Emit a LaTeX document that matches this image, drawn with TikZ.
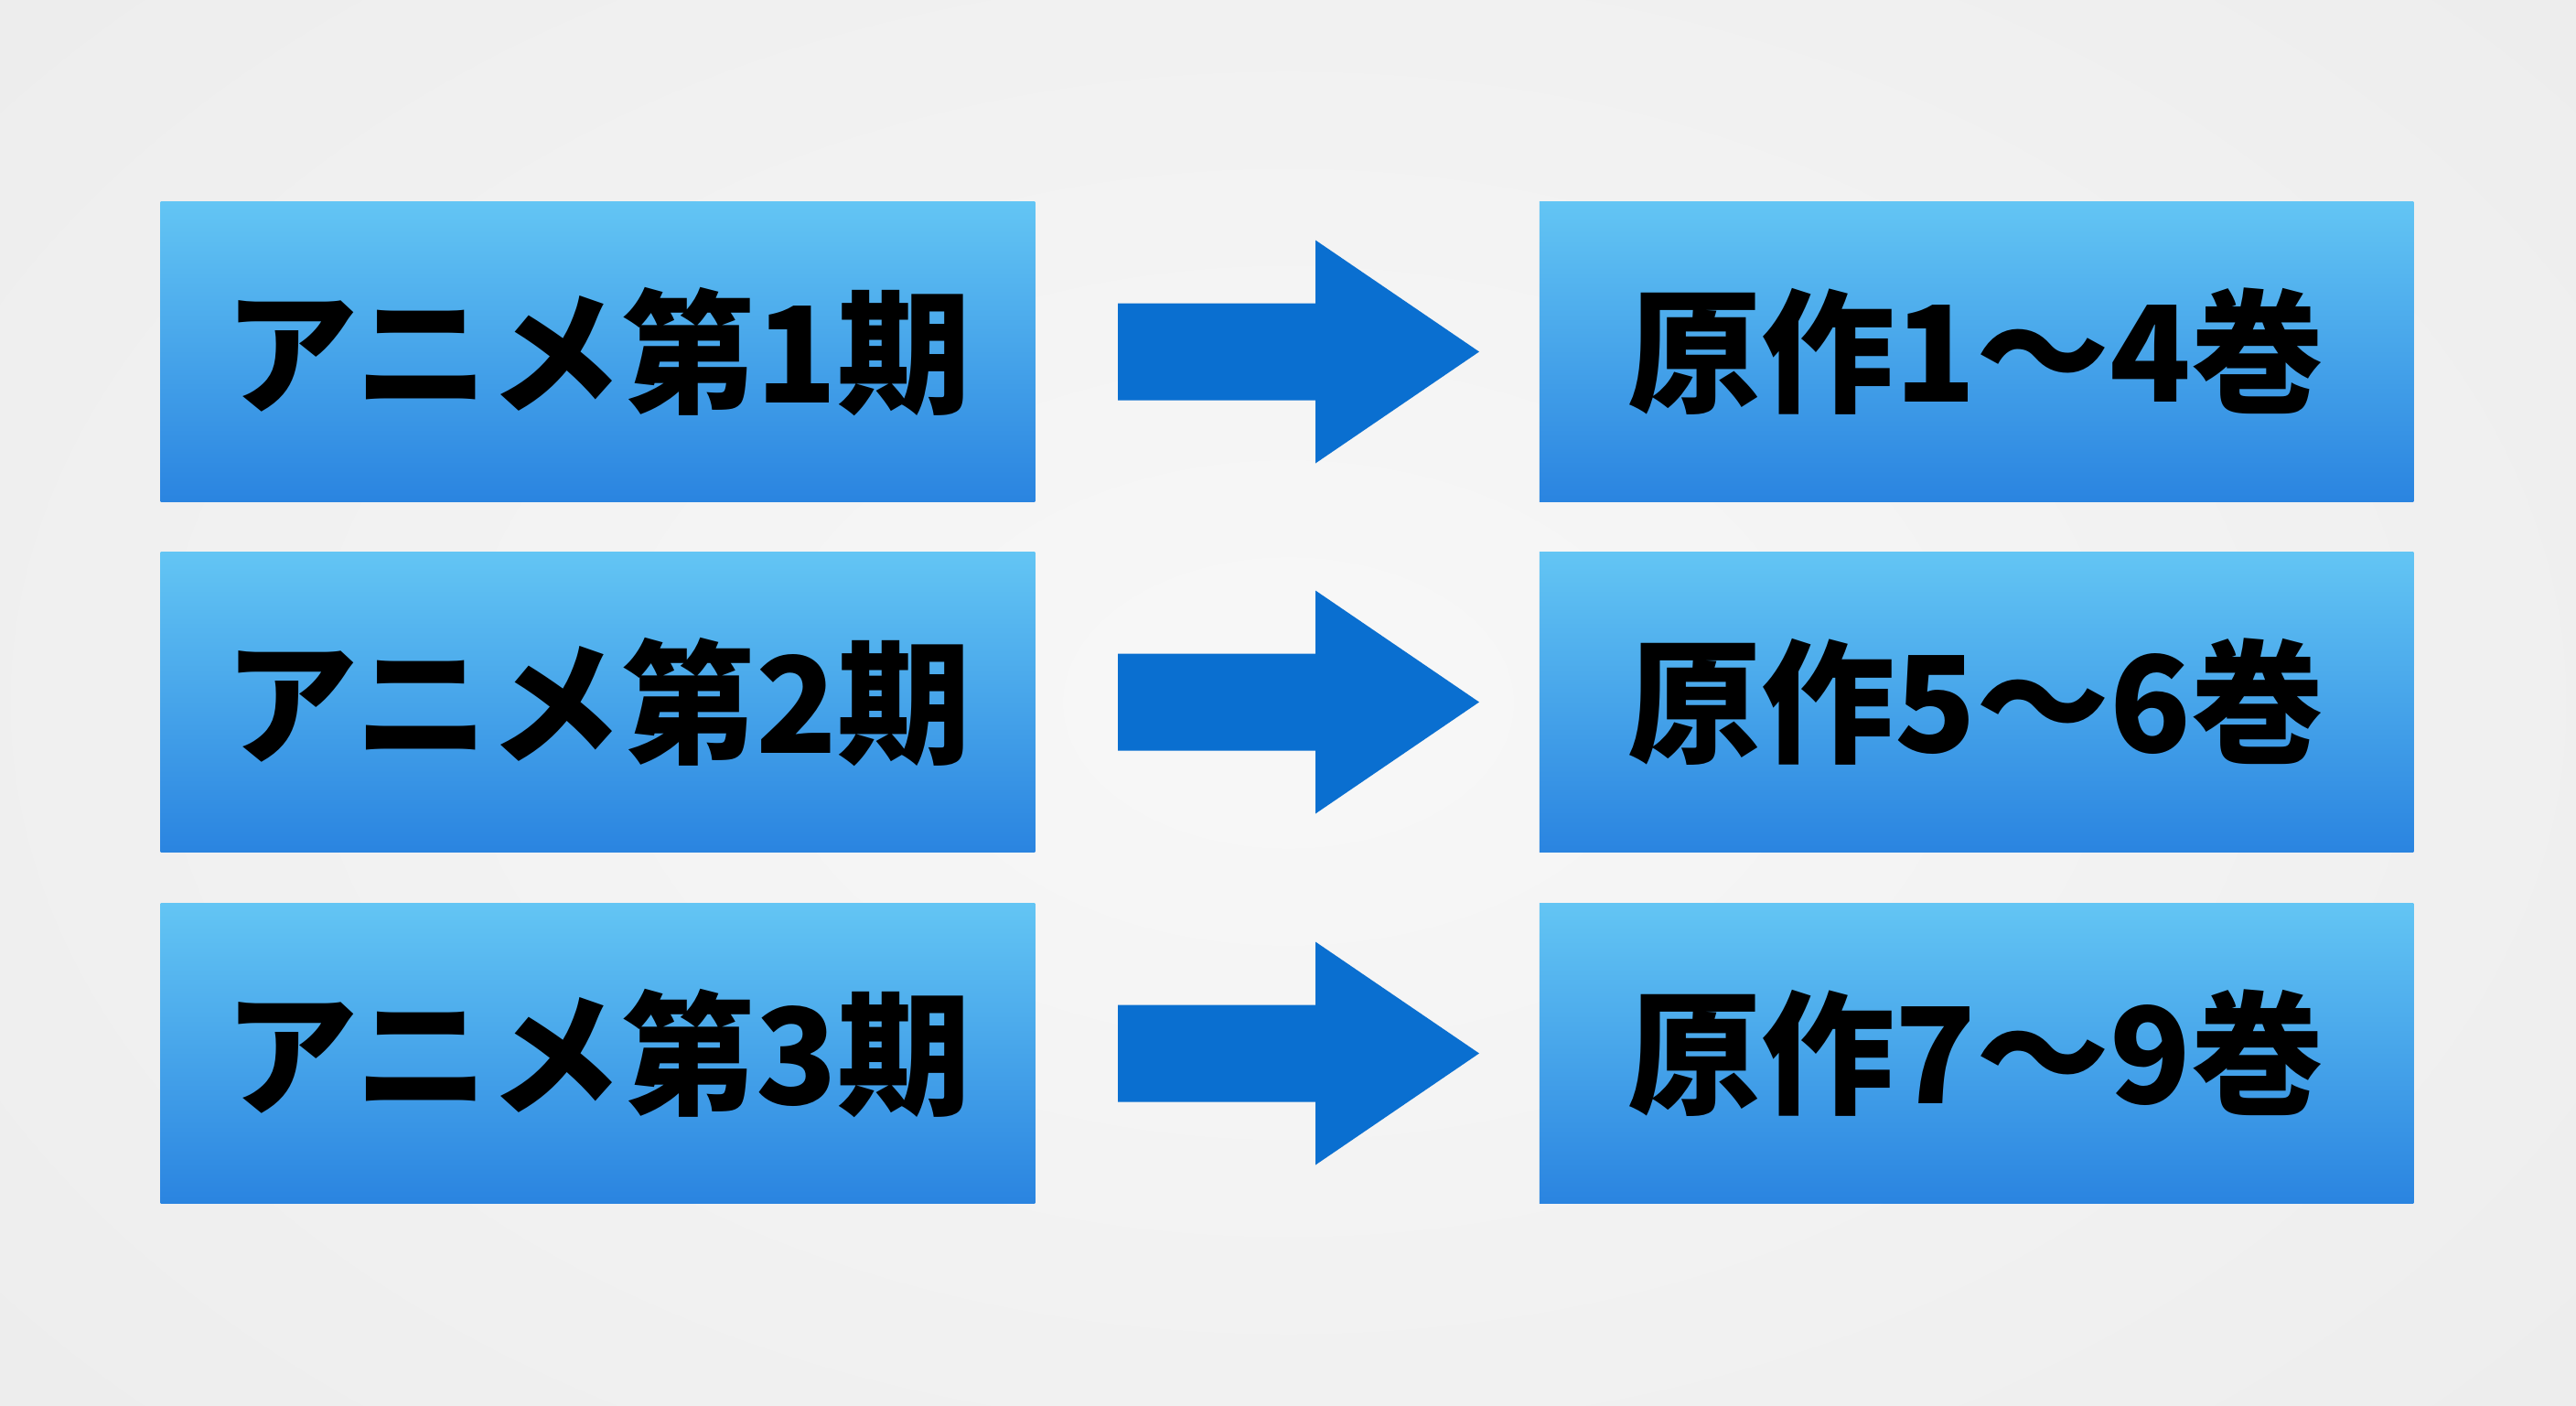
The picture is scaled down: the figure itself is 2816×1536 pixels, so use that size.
\documentclass[tikz,border=0pt]{standalone}
\usepackage{fontspec}
\newfontfamily\jpheavy{Noto Sans CJK JP Black}
\usetikzlibrary{calc}
\definecolor{boxtop}{HTML}{63C5F4}
\definecolor{boxbot}{HTML}{2A84E0}
\definecolor{arrowblue}{HTML}{0A6FD0}
\definecolor{bgout}{HTML}{EDEDED}
\definecolor{bgin}{HTML}{F8F8F8}
\tikzset{
  stagebox/.style={minimum width=9.55cm, minimum height=3.28cm, inner sep=0pt,
    top color=boxtop, bottom color=boxbot, draw=none,
    font=\jpheavy\fontsize{41.5}{41.5}\selectfont, text=black},
  bigarrow/.style={fill=arrowblue, draw=none}
}
\newcommand{\arrowfrom}[1]{%
  \fill[bigarrow] ($(#1.east)+(90,-53)$) -- ($(#1.east)+(306,-53)$) -- ($(#1.east)+(306,-122)$)
    -- ($(#1.east)+(485,0)$) -- ($(#1.east)+(306,122)$) -- ($(#1.east)+(306,53)$)
    -- ($(#1.east)+(90,53)$) -- cycle;}
\begin{document}
\begin{tikzpicture}[x=0.01cm,y=-0.01cm]
\useasboundingbox (0,0) rectangle (2816,1536);
\shade[inner color=bgin, outer color=bgout] (-400,-400) rectangle (3216,1936);
\node[stagebox] (L1) at (653.5,384.5) {アニメ第1期};
\node[stagebox] (L2) at (653.5,767.5) {アニメ第2期};
\node[stagebox] (L3) at (653.5,1151.5) {アニメ第3期};
\node[stagebox] (R1) at (2160.5,384.5) {原作1〜4巻};
\node[stagebox] (R2) at (2160.5,767.5) {原作5〜6巻};
\node[stagebox] (R3) at (2160.5,1151.5) {原作7〜9巻};
\arrowfrom{L1}
\arrowfrom{L2}
\arrowfrom{L3}
\end{tikzpicture}
\end{document}
